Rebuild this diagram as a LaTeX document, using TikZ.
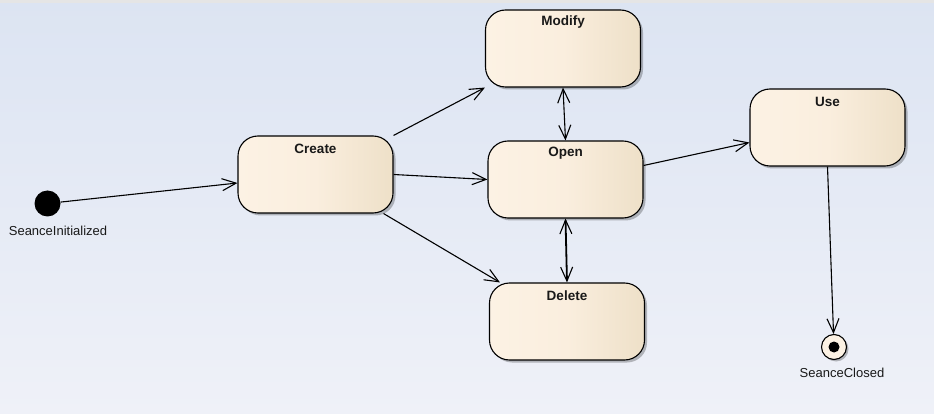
\documentclass[tikz,border=0pt]{standalone}
\usepackage{fontspec}
\setmainfont{Liberation Sans}
\usetikzlibrary{arrows.meta,shadows}
\definecolor{bgtop}{RGB}{220,228,242}
\definecolor{bgbot}{RGB}{239,241,248}
\definecolor{stL}{RGB}{252,242,228}
\definecolor{stM}{RGB}{250,238,222}
\definecolor{stR}{RGB}{238,224,200}
\tikzset{
 state/.style={draw=black, line width=1.1pt, rounded corners=20pt, minimum width=155pt, minimum height=77pt,
   left color=stL, right color=stR, middle color=stM,
   drop shadow={shadow xshift=2.5pt, shadow yshift=-2.5pt, fill=black, opacity=0.25}, inner sep=0pt},
 stname/.style={font=\fontsize{13.5}{15}\selectfont\bfseries, text=black!90, inner sep=0pt},
 trans/.style={line width=1.1pt, -{Straight Barb[length=14pt,width=12pt,line width=1.1pt]}},
 both/.style={line width=1.1pt, {Straight Barb[length=14pt,width=12pt,line width=1.1pt]}-{Straight Barb[length=14pt,width=12pt,line width=1.1pt]}},
 caption/.style={font=\fontsize{13}{15}\selectfont, text=black!90, inner sep=0pt},
}
\begin{document}
\begin{tikzpicture}[x=1pt,y=-1pt]
\useasboundingbox (0,0) rectangle (934,414);
\shade[top color=bgtop, bottom color=bgbot] (0,0) rectangle (934,414);
\fill[black!10] (0,0) rectangle (934,3);

\node[state, label={[stname, anchor=center, yshift=-13pt]north:Create}] (create) at (315.5,174.5) {};
\node[state, label={[stname, anchor=center, yshift=-13pt]north:Modify}] (modify) at (563,48.5) {};
\node[state, label={[stname, anchor=center, yshift=-13pt]north:Open}] (open) at (565.5,179.5) {};
\node[state, label={[stname, anchor=center, yshift=-13pt]north:Use}] (use) at (827.5,127.5) {};
\node[state, label={[stname, anchor=center, yshift=-13pt]north:Delete}] (delete) at (567,321.5) {};

\node[circle, fill=black, minimum size=26pt, inner sep=0pt] (init) at (47.5,203.5) {};
\node[caption] (initlabel) at (58,231) {SeanceInitialized};

\node[circle, draw=black, line width=1.1pt, fill=stL, minimum size=25pt, inner sep=0pt,
  drop shadow={shadow xshift=2pt, shadow yshift=-2pt, fill=black, opacity=0.25}] (final) at (834,347) {};
\node[circle, fill=black, minimum size=11pt, inner sep=0pt] (finaldot) at (final) {};
\node[caption] (finallabel) at (842,373) {SeanceClosed};

\draw[trans] (init) -- ([yshift=-8.5pt]create.west);
\draw[trans] (create.north east) -- (modify.south west);
\draw[trans] (create.east) -- (open.west);
\draw[trans] ([xshift=-10pt]create.south east) -- ([xshift=11pt]delete.north west);
\draw[both] (modify.south) -- (open.north);
\draw[both, line width=1.8pt] (open.south) -- (delete.north);
\draw[trans] ([yshift=14pt]open.east) -- ([yshift=-15pt]use.west);
\draw[trans] (use.south) -- (final);
\end{tikzpicture}
\end{document}
